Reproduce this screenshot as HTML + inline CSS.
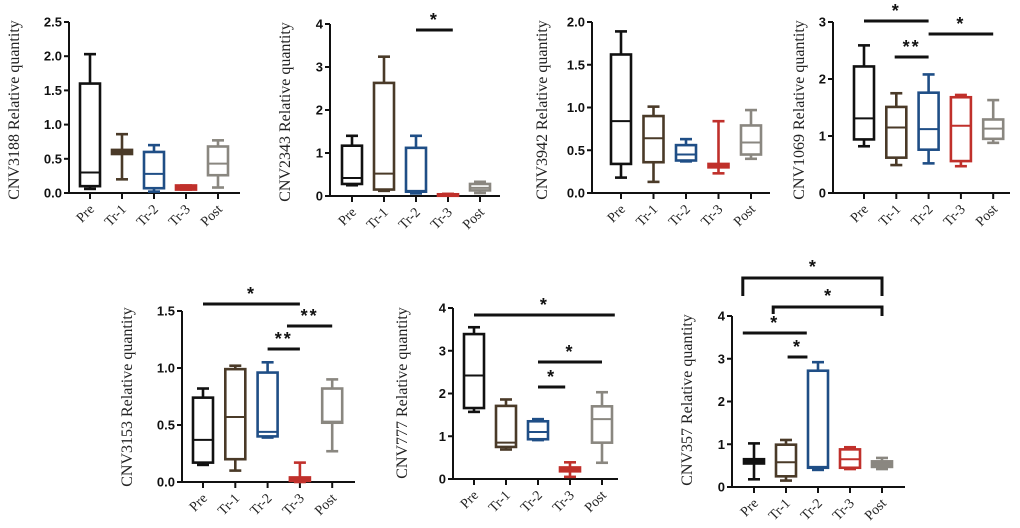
<!DOCTYPE html>
<html><head><meta charset="utf-8">
<style>
html,body{margin:0;padding:0;background:#fff;}
svg{display:block;}
.tk{font-family:"Liberation Sans",sans-serif;font-weight:bold;font-size:13px;fill:#111;}
.yt{font-family:"Liberation Serif",serif;font-size:16px;fill:#222;}
.xl{font-family:"Liberation Serif",serif;font-size:14px;fill:#222;}
.st{font-family:"Liberation Sans",sans-serif;font-weight:bold;font-size:18px;fill:#111;}
</style></head>
<body>
<svg id="chart" width="1020" height="528" viewBox="0 0 1020 528" xmlns="http://www.w3.org/2000/svg"></svg>
<script>
const categories = ["Pre","Tr-1","Tr-2","Tr-3","Post"];
const colors = ["#111111","#4a3a28","#1f4e86","#c0302b","#8a8780"];
// each box: [min, q1, median, q3, max]
const cnv3188 = [[0.06,0.1,0.3,1.6,2.03],[0.2,0.57,0.6,0.63,0.86],[0.02,0.07,0.28,0.6,0.7],[0.05,0.05,0.08,0.11,0.11],[0.08,0.26,0.43,0.68,0.77]];
const cnv2343 = [[0.25,0.28,0.42,1.17,1.4],[0.12,0.15,0.52,2.63,3.24],[0.06,0.1,0.12,1.12,1.4],[0.01,0.02,0.03,0.04,0.05],[0.07,0.13,0.19,0.28,0.33]];
const cnv3942 = [[0.18,0.34,0.84,1.62,1.89],[0.13,0.36,0.64,0.9,1.01],[0.37,0.38,0.45,0.56,0.63],[0.23,0.3,0.32,0.34,0.84],[0.4,0.45,0.59,0.79,0.97]];
const cnv1069 = [[0.82,0.94,1.31,2.22,2.59],[0.49,0.62,1.15,1.51,1.75],[0.52,0.76,1.12,1.76,2.08],[0.47,0.56,1.18,1.68,1.72],[0.88,0.95,1.13,1.29,1.63]];
const cnv3153 = [[0.15,0.17,0.37,0.74,0.82],[0.1,0.2,0.57,0.99,1.02],[0.39,0.4,0.44,0.96,1.05],[0,0.01,0.02,0.04,0.17],[0.27,0.52,0.53,0.82,0.9]];
const cnv777 = [[1.57,1.66,2.42,3.39,3.55],[0.69,0.75,0.85,1.71,1.86],[0.91,0.93,1.1,1.35,1.4],[0.05,0.18,0.23,0.27,0.39],[0.38,0.85,1.4,1.7,2.03]];
const cnv357 = [[0.18,0.55,0.6,0.65,1.02],[0.15,0.25,0.58,0.99,1.1],[0.4,0.45,0.47,2.72,2.92],[0.42,0.45,0.65,0.88,0.93],[0.42,0.47,0.52,0.6,0.68]];
const ticks15 = ["0.0","0.5","1.0","1.5"];
const ticks20 = ["0.0","0.5","1.0","1.5","2.0"];
const ticks25 = ["0.0","0.5","1.0","1.5","2.0","2.5"];
const ticks3 = ["0","1","2","3"];
const ticks4 = ["0","1","2","3","4"];

const NS="http://www.w3.org/2000/svg";
const svg=document.getElementById('chart');
function mk(tag,attrs,parent){const e=document.createElementNS(NS,tag);for(const k in attrs)e.setAttribute(k,attrs[k]);(parent||svg).appendChild(e);return e;}

const panels=[
 {name:"cnv3188",title:"CNV3188 Relative quantity",data:cnv3188,ticks:ticks25,ax:69,y0:193,yTop:22,xEnd:240,c0:90,step:32,tx:14,ty:110,sig:[]},
 {name:"cnv2343",title:"CNV2343 Relative quantity",data:cnv2343,ticks:ticks4,ax:330,y0:196,yTop:24,xEnd:500,c0:352,step:32,tx:285,ty:112,sig:[{a:2,b:3.15,y:30,t:"*"}]},
 {name:"cnv3942",title:"CNV3942 Relative quantity",data:cnv3942,ticks:ticks20,ax:592,y0:193,yTop:22,xEnd:770,c0:621,step:32.5,tx:542,ty:110,sig:[]},
 {name:"cnv1069",title:"CNV1069 Relative quantity",data:cnv1069,ticks:ticks3,ax:833,y0:193,yTop:22,xEnd:1010,c0:864,step:32.3,tx:799,ty:110,sig:[{a:0,b:2,y:21,t:"*"},{a:0.95,b:2,y:57,t:"**"},{a:2,b:4,y:34,t:"*"}]},
 {name:"cnv3153",title:"CNV3153 Relative quantity",data:cnv3153,ticks:ticks15,ax:182,y0:482,yTop:311,xEnd:355,c0:203,step:32.3,tx:127,ty:397,sig:[{a:0,b:3,y:304,t:"*"},{a:2.6,b:4,y:326,t:"**"},{a:2,b:3,y:349,t:"**"}]},
 {name:"cnv777",title:"CNV777 Relative quantity",data:cnv777,ticks:ticks4,ax:453,y0:479,yTop:308,xEnd:618,c0:474,step:32,tx:402,ty:393,sig:[{a:0,b:4.4,y:315,t:"*"},{a:2,b:4,y:362,t:"*"},{a:2,b:2.85,y:387,t:"*"}]},
 {name:"cnv357",title:"CNV357 Relative quantity",data:cnv357,ticks:ticks4,ax:732,y0:487,yTop:316,xEnd:905,c0:754,step:32,tx:687,ty:400,sig:[{a:-0.35,b:1.65,y:333,t:"*"},{a:1.05,b:1.67,y:357,t:"*"}],
  brackets:[{a:-0.35,b:4,y:278,d1:296,d2:296},{a:0.6,b:4,y:307,d1:314,d2:316}]}
];

panels.forEach(p=>{
 const g=mk('g',{});
 
 
 const maxV=parseFloat(p.ticks[p.ticks.length-1]);
 const ys=v=>p.y0-(v/maxV)*(p.y0-p.yTop);
 const xs=i=>p.c0+i*p.step;
 const ya=mk('line',{x1:p.ax,y1:p.yTop,x2:p.ax,y2:p.y0,stroke:'#111','stroke-width':2},g);
 
 
 p.ticks.forEach(t=>{
  const v=parseFloat(t),y=ys(v);
  mk('line',{x1:p.ax-5,y1:y,x2:p.ax,y2:y,stroke:'#111','stroke-width':2},g);
  const tl=mk('text',{x:p.ax-7,y:y+4.5,'text-anchor':'end',class:'tk'},g);
  tl.textContent=t;
  
  
 });
 const xa=mk('line',{x1:p.ax,y1:p.y0,x2:p.xEnd,y2:p.y0,stroke:'#111','stroke-width':2},g);
 
 
 const tt=mk('text',{x:0,y:0,'text-anchor':'middle',class:'yt',transform:`translate(${p.tx+5},${p.ty}) rotate(-90)`},g);
 tt.textContent=p.title;
 
 
 categories.forEach((c,i)=>{
  const x=xs(i);
  mk('line',{x1:x,y1:p.y0,x2:x,y2:p.y0+6,stroke:'#111','stroke-width':2},g);
  const xl=mk('text',{x:0,y:0,'text-anchor':'end',class:'xl',transform:`translate(${x+5},${p.y0+17}) rotate(-45)`},g);
  xl.textContent=c;
  
  
  const d=p.data[i],col=colors[i];
  const bg=mk('g',{stroke:col,'stroke-width':2.6,fill:'none'},g);
  
  
  const hw=10,cw=6;
  mk('line',{x1:x,y1:ys(d[0]),x2:x,y2:ys(d[1])},bg);
  mk('line',{x1:x,y1:ys(d[3]),x2:x,y2:ys(d[4])},bg);
  mk('line',{x1:x-cw,y1:ys(d[0]),x2:x+cw,y2:ys(d[0])},bg);
  mk('line',{x1:x-cw,y1:ys(d[4]),x2:x+cw,y2:ys(d[4])},bg);
  const h=Math.max(ys(d[1])-ys(d[3]),1.5);
  mk('rect',{x:x-hw,y:ys(d[3]),width:hw*2,height:h,fill:h<6?col:'#fff'},bg);
  mk('line',{x1:x-hw,y1:ys(d[2]),x2:x+hw,y2:ys(d[2]),'stroke-width':2},bg);
 });
 p.sig.forEach(s=>{
  const x1=xs(s.a),x2=xs(s.b);
  const l=mk('line',{x1:x1,y1:s.y,x2:x2,y2:s.y,stroke:'#111','stroke-width':3},g);
  
  
  const st=mk('text',{x:(x1+x2)/2,y:s.y-4,'text-anchor':'middle',class:'st','letter-spacing':'2'},g);
  st.textContent=s.t;
  
  
 });
 (p.brackets||[]).forEach(b=>{
  const x1=xs(b.a),x2=xs(b.b);
  const pl=mk('polyline',{points:`${x1},${b.d1} ${x1},${b.y} ${x2},${b.y} ${x2},${b.d2}`,stroke:'#111','stroke-width':3,fill:'none'},g);
  
  
  const st=mk('text',{x:(x1+x2)/2,y:b.y-5,'text-anchor':'middle',class:'st'},g);
  st.textContent='*';
  
  
 });
});
</script>
</body></html>
